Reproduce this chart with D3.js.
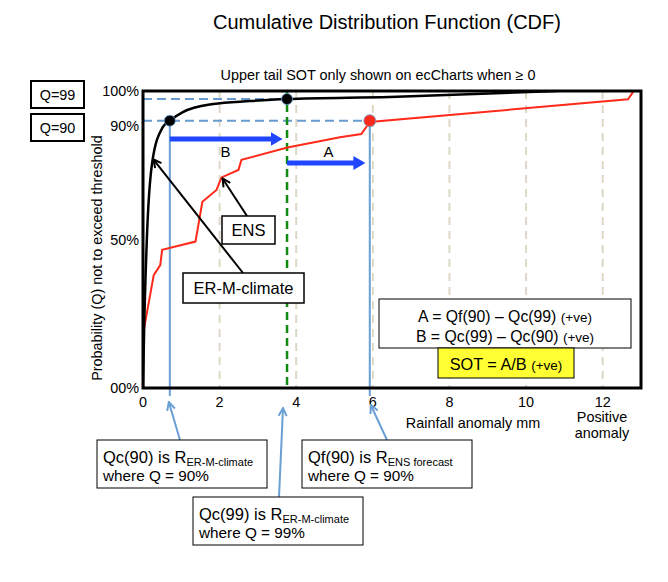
<!DOCTYPE html>
<html><head><meta charset="utf-8">
<script src="https://cdn.jsdelivr.net/npm/d3@7"></script>
<style>body{margin:0;background:#fff}svg{display:block;font-family:"Liberation Sans",Arial,sans-serif}</style>
</head><body><svg id="c" width="668" height="582"></svg>
<script>
// ---- data ----
const climX = [0, 0.03, 0.1, 0.25, 0.52, 0.7, 1.04, 1.83, 2.8, 3.76, 6.44, 10.8];
const climQ = [0, 20, 50, 76.8, 87.9, 90, 92.9, 95.6, 96.6, 97.3, 98, 100];
const ensX = [0.03, 0.28, 0.45, 0.5, 1.37, 1.55, 1.92, 2.05, 2.49, 2.57, 3.77, 5.14, 5.7, 5.92, 12.66, 12.8];
const ensQ = [20.2, 38, 41.4, 46.5, 49.3, 62.7, 66.7, 70.9, 73.4, 76.8, 81, 84.4, 85.5, 89.6, 97.2, 99.8];
const xTicks = [0, 2, 4, 6, 8, 10, 12];
const gridX = [2, 4, 6, 8, 10, 12];
const yTicks = [0, 50, 90, 100];
const yTickLabels = ["00%", "50%", "90%", "100%"];
const qc90 = 0.7, qc99 = 3.76, qf90 = 5.92;
const q90Level = 90, q99Level = 97.3;

const svg = d3.select("#c");
const L = 143, R = 641, T = 91, B = 388;
const x = d3.scaleLinear().domain([0, 13]).range([L, R]);
const y = d3.scaleLinear().domain([0, 100]).range([B, T]);

const defs = svg.append("defs");
defs.append("clipPath").attr("id", "clip").append("rect").attr("x", L).attr("y", T).attr("width", R - L).attr("height", B - T);
function openHead(id, color) {
  defs.append("marker").attr("id", id).attr("viewBox", "0 0 10 10").attr("refX", 9).attr("refY", 5)
    .attr("markerWidth", 10).attr("markerHeight", 10).attr("markerUnits", "userSpaceOnUse").attr("orient", "auto")
    .append("path").attr("d", "M1,1 L9,5 L1,9").attr("fill", "none").attr("stroke", color).attr("stroke-width", 2);
}
openHead("hk", "#000");
openHead("hb", "#6a9fd4");
defs.append("marker").attr("id", "hf").attr("viewBox", "0 0 10 10").attr("refX", 2).attr("refY", 5)
  .attr("markerWidth", 12).attr("markerHeight", 14).attr("markerUnits", "userSpaceOnUse").attr("orient", "auto").attr("preserveAspectRatio", "none")
  .append("path").attr("d", "M0,0 L10,5 L0,10 Z").attr("fill", "#1f45ff");

// Title
svg.append("text").attr("x", 387).attr("y", 29).attr("text-anchor", "middle").attr("font-size", 20).text("Cumulative Distribution Function (CDF)");
svg.append("text").attr("x", 378).attr("y", 80).attr("text-anchor", "middle").attr("font-size", 14.4).text("Upper tail SOT only shown on ecCharts when \u2265 0");

// Grid
svg.append("g").selectAll("line").data(gridX).join("line")
  .attr("x1", d => x(d)).attr("x2", d => x(d)).attr("y1", T).attr("y2", B)
  .attr("stroke", "#ddd8c6").attr("stroke-width", 2).attr("stroke-dasharray", "8,6");

// Dashed Q lines
svg.append("line").attr("x1", L).attr("x2", x(qc99)).attr("y1", y(q99Level)).attr("y2", y(q99Level))
  .attr("stroke", "#6a9bd0").attr("stroke-width", 2).attr("stroke-dasharray", "9,5");
svg.append("line").attr("x1", L).attr("x2", x(qf90)).attr("y1", y(q90Level)).attr("y2", y(q90Level))
  .attr("stroke", "#6a9bd0").attr("stroke-width", 2).attr("stroke-dasharray", "9,5");

// Green dashed Qc99
svg.append("line").attr("x1", x(qc99)).attr("x2", x(qc99)).attr("y1", T).attr("y2", B)
  .attr("stroke", "#118a11").attr("stroke-width", 2.5).attr("stroke-dasharray", "8,5");

// Light blue verticals
[[qc90, q90Level], [qf90, q90Level]].forEach(([vx, vq]) => {
  svg.append("line").attr("x1", x(vx)).attr("x2", x(vx)).attr("y1", y(vq)).attr("y2", 396)
    .attr("stroke", "#6a9fd4").attr("stroke-width", 2);
});

// Curves
const line = d3.line().x(d => x(d[0])).y(d => y(d[1]));
svg.append("path").datum(ensX.map((v, i) => [v, ensQ[i]])).attr("clip-path", "url(#clip)")
  .attr("d", line).attr("fill", "none").attr("stroke", "#ff2a1a").attr("stroke-width", 2);
svg.append("path").datum(climX.map((v, i) => [v, climQ[i]])).attr("clip-path", "url(#clip)")
  .attr("d", line.curve(d3.curveMonotoneX)).attr("fill", "none").attr("stroke", "#000").attr("stroke-width", 2.5);

// Thick blue arrows
svg.append("line").attr("x1", x(qc90)).attr("x2", x(qc99) - 14).attr("y1", 139).attr("y2", 139)
  .attr("stroke", "#1f45ff").attr("stroke-width", 5).attr("marker-end", "url(#hf)");
svg.append("line").attr("x1", x(qc99)).attr("x2", x(qf90) - 14).attr("y1", 163).attr("y2", 163)
  .attr("stroke", "#1f45ff").attr("stroke-width", 5).attr("marker-end", "url(#hf)");
svg.append("text").attr("x", (x(qc90) + x(qc99)) / 2 - 3).attr("y", 157).attr("text-anchor", "middle").attr("font-size", 15).text("B");
svg.append("text").attr("x", (x(qc99) + x(qf90)) / 2).attr("y", 157).attr("text-anchor", "middle").attr("font-size", 15).text("A");

// Dots
svg.append("circle").attr("cx", x(qc90)).attr("cy", y(q90Level)).attr("r", 5.5).attr("fill", "#000").attr("stroke", "#6a9fd4").attr("stroke-width", 0.8);
svg.append("circle").attr("cx", x(qc99)).attr("cy", y(q99Level)).attr("r", 5.5).attr("fill", "#000").attr("stroke", "#6a9fd4").attr("stroke-width", 0.8);
svg.append("circle").attr("cx", x(qf90)).attr("cy", y(q90Level)).attr("r", 6).attr("fill", "#ff2a1a").attr("stroke", "#6a9fd4").attr("stroke-width", 0.8);

// Frame
svg.append("rect").attr("x", L).attr("y", T).attr("width", R - L).attr("height", B - T)
  .attr("fill", "none").attr("stroke", "#000").attr("stroke-width", 3);

// Y tick labels
svg.append("g").selectAll("text").data(yTicks).join("text")
  .attr("x", 139).attr("y", (d, i) => y(d) + (d === 90 ? 10 : 5)).attr("text-anchor", "end").attr("font-size", 14.4)
  .text((d, i) => yTickLabels[i]);
// X tick labels
svg.append("g").selectAll("text").data(xTicks).join("text")
  .attr("x", d => x(d)).attr("y", 407).attr("text-anchor", "middle").attr("font-size", 14.4).text(d => d);

svg.append("text").attr("transform", "translate(102,258) rotate(-90)").attr("text-anchor", "middle").attr("font-size", 14.4)
  .text("Probability (Q) not to exceed threshold");
svg.append("text").attr("x", 473).attr("y", 428).attr("text-anchor", "middle").attr("font-size", 14.4).text("Rainfall anomaly mm");
svg.append("text").attr("x", 602).attr("y", 422).attr("text-anchor", "middle").attr("font-size", 14.4).text("Positive");
svg.append("text").attr("x", 602).attr("y", 438).attr("text-anchor", "middle").attr("font-size", 14.4).text("anomaly");

// Boxes helper
function box(x0, y0, w, h, sw, fill) {
  svg.append("rect").attr("x", x0).attr("y", y0).attr("width", w).attr("height", h)
    .attr("fill", fill || "#fff").attr("stroke", "#000").attr("stroke-width", sw);
}
box(31, 81, 53, 27, 2); svg.append("text").attr("x", 57.5).attr("y", 100).attr("text-anchor", "middle").attr("font-size", 14.4).text("Q=99");
box(31, 114, 53, 27, 2); svg.append("text").attr("x", 57.5).attr("y", 133).attr("text-anchor", "middle").attr("font-size", 14.4).text("Q=90");

// Black annotation arrows
svg.append("line").attr("x1", 247).attr("y1", 216).attr("x2", x(2.05) + 1).attr("y2", y(70.9) + 1)
  .attr("stroke", "#000").attr("stroke-width", 2).attr("marker-end", "url(#hk)");
svg.append("line").attr("x1", 243).attr("y1", 273).attr("x2", x(0.27)).attr("y2", y(77))
  .attr("stroke", "#000").attr("stroke-width", 2).attr("marker-end", "url(#hk)");
box(222, 216, 53, 28, 1.5); svg.append("text").attr("x", 248.5).attr("y", 236).attr("text-anchor", "middle").attr("font-size", 16.5).text("ENS");
box(183, 273, 121, 30, 1.5); svg.append("text").attr("x", 243.5).attr("y", 294).attr("text-anchor", "middle").attr("font-size", 16.5).text("ER-M-climate");

// Formula box
box(379, 299, 252, 49, 1);
const f1 = svg.append("text").attr("x", 505).attr("y", 322).attr("text-anchor", "middle").attr("font-size", 15.8);
f1.append("tspan").text("A = Qf(90) \u2013 Qc(99) "); f1.append("tspan").attr("font-size", 13.5).text("(+ve)");
const f2 = svg.append("text").attr("x", 505).attr("y", 342).attr("text-anchor", "middle").attr("font-size", 15.8);
f2.append("tspan").text("B = Qc(99) \u2013 Qc(90) "); f2.append("tspan").attr("font-size", 13.5).text("(+ve)");
box(438, 348, 136, 30, 1, "#ffff33");
const f3 = svg.append("text").attr("x", 506).attr("y", 370).attr("text-anchor", "middle").attr("font-size", 16.3);
f3.append("tspan").text("SOT = A/B "); f3.append("tspan").attr("font-size", 13.5).text("(+ve)");

// Bottom annotation arrows (light blue)
svg.append("line").attr("x1", 180).attr("y1", 440).attr("x2", x(qc90) - 1).attr("y2", 402)
  .attr("stroke", "#6a9fd4").attr("stroke-width", 2).attr("marker-end", "url(#hb)");
svg.append("line").attr("x1", 387).attr("y1", 440).attr("x2", x(qf90) + 1).attr("y2", 405)
  .attr("stroke", "#6a9fd4").attr("stroke-width", 2).attr("marker-end", "url(#hb)");
svg.append("line").attr("x1", 279).attr("y1", 497).attr("x2", 283).attr("y2", 408)
  .attr("stroke", "#6a9fd4").attr("stroke-width", 2).attr("marker-end", "url(#hb)");

function noteBox(x0, y0, main, sub, line2) {
  box(x0, y0, 170, 48, 1);
  const t = svg.append("text").attr("x", x0 + 6).attr("y", y0 + 23).attr("font-size", 16.5);
  t.append("tspan").text(main);
  t.append("tspan").attr("font-size", 11).attr("dy", 2.5).text(sub);
  svg.append("text").attr("x", x0 + 6).attr("y", y0 + 41).attr("font-size", 15.3).text(line2);
}
noteBox(97, 440, "Qc(90) is R", "ER-M-climate", "where Q = 90%");
noteBox(302, 440, "Qf(90) is R", "ENS forecast", "where Q = 90%");
noteBox(193, 497, "Qc(99) is R", "ER-M-climate", "where Q = 99%");
</script></body></html>
